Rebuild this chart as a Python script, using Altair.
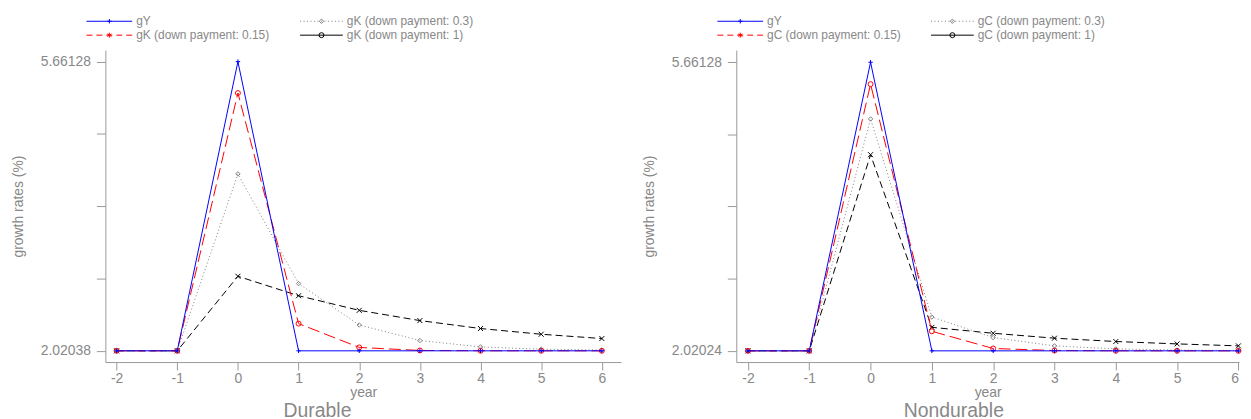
import altair as alt
import pandas as pd

# ---------------- data ----------------
years = [-2, -1, 0, 1, 2, 3, 4, 5, 6]

dur_gY = [2.02038, 2.02038, 5.66128, 2.02038, 2.02038, 2.02038, 2.02038, 2.02038, 2.02038]
dur_gK_015 = [2.02038, 2.02038, 5.266, 2.363, 2.063, 2.025, 2.021, 2.0205, 2.0204]
dur_gK_03 = [2.02038, 2.02038, 4.248, 2.867, 2.346, 2.150, 2.070, 2.041, 2.030]
dur_gK_1 = [2.02038, 2.02038, 2.959, 2.714, 2.530, 2.401, 2.301, 2.229, 2.175]

non_gY = [2.02024, 2.02024, 5.66128, 2.02024, 2.02024, 2.02024, 2.02024, 2.02024, 2.02024]
non_gC_015 = [2.02024, 2.02024, 5.385, 2.267, 2.050, 2.024, 2.021, 2.0205, 2.0203]
non_gC_03 = [2.02024, 2.02024, 4.946, 2.447, 2.188, 2.083, 2.045, 2.030, 2.025]
non_gC_1 = [2.02024, 2.02024, 4.495, 2.317, 2.242, 2.180, 2.138, 2.108, 2.083]

dur_yticks = [2.02038, 2.930655, 3.84093, 4.751205, 5.66128]
dur_ylabels = ["2.02038", "", "", "", "5.66128"]
non_yticks = [2.02024, 2.9305, 3.84076, 4.75102, 5.66128]
non_ylabels = ["2.02024", "", "", "", "5.66128"]

dur_legend = ["gY", "gK (down payment: 0.15)", "gK (down payment: 0.3)", "gK (down payment: 1)"]
non_legend = ["gY", "gC (down payment: 0.15)", "gC (down payment: 0.3)", "gC (down payment: 1)"]

# ---------------- style ----------------
FONT = "Liberation Sans"
TEXT = "#888888"
AXIS = "#999999"
PLUS = "M-1,0L1,0M0,-1L0,1"
XSHAPE = "M-1,-1L1,1M-1,1L1,-1"
STAR = "M0,-1L0,1M-0.87,-0.5L0.87,0.5M-0.87,0.5L0.87,-0.5"

BLUE, RED, GRAY, BLACK = "#0000ff", "#ff0000", "#808080", "#000000"


def label_expr(ticks, labels):
    expr = "''"
    for t, l in zip(ticks, labels):
        expr = f"abs(datum.value - {t}) < 1e-6 ? '{l}' : ({expr})"
    return expr


def series(values, color, dash, shape, size, xs, ys, xaxis, yaxis):
    df = pd.DataFrame({"year": years, "value": values})
    base = alt.Chart(df).encode(
        x=alt.X("year:Q", scale=xs, axis=xaxis),
        y=alt.Y("value:Q", scale=ys, axis=yaxis),
    )
    lk = dict(color=color, strokeWidth=1)
    if dash:
        lk["strokeDash"] = dash
    line = base.mark_line(**lk)
    pts = base.mark_point(shape=shape, size=size, color=color, filled=False,
                          strokeWidth=1, opacity=1)
    return [line, pts]


def legend_entry(x0, x1, y, label, color, dash, shape, size):
    c = alt.Chart(pd.DataFrame({"k": [0]}))
    rk = dict(color=color, strokeWidth=1)
    if dash:
        rk["strokeDash"] = dash
    rule = c.mark_rule(**rk).encode(x=alt.value(x0), x2=alt.value(x1), y=alt.value(y))
    pt = c.mark_point(shape=shape, size=size, color=color, filled=False,
                      strokeWidth=1, opacity=1).encode(
        x=alt.value((x0 + x1) / 2), y=alt.value(y))
    txt = c.mark_text(align="left", baseline="middle", font=FONT, fontSize=12,
                      color=TEXT).encode(x=alt.value(x1 + 4), y=alt.value(y),
                                         text=alt.value(label))
    return [rule, pt, txt]


def panel(gy, s015, s03, s1, yticks, ylabels, ydomain, xdomain, width, legend,
          title, dx):
    xs = alt.Scale(domain=xdomain, nice=False, zero=False)
    ys = alt.Scale(domain=ydomain, nice=False, zero=False)
    xaxis = alt.Axis(values=years, title="year", grid=False, tickSize=8,
                     labelPadding=2, titlePadding=0,
                     labelExpr="'' + datum.value")
    yaxis = alt.Axis(values=yticks, labelExpr=label_expr(yticks, ylabels),
                     title="growth rates (%)", grid=False, tickSize=9,
                     labelPadding=6, titlePadding=15)
    layers = []
    layers += series(s1, BLACK, [7, 4], XSHAPE, 25, xs, ys, xaxis, yaxis)
    layers += series(s03, GRAY, [1, 2.5], "diamond", 20, xs, ys, xaxis, yaxis)
    layers += series(s015, RED, [12, 5], "circle", 25, xs, ys, xaxis, yaxis)
    layers += series(gy, BLUE, None, PLUS, 20, xs, ys, xaxis, yaxis)
    layers += legend_entry(-19, 27, -29, legend[0], BLUE, None, PLUS, 20)
    layers += legend_entry(-19, 27, -15, legend[1], RED, [6, 4], STAR, 25)
    layers += legend_entry(196, 239, -29, legend[2], GRAY, [1, 2.5], "diamond", 20)
    layers += legend_entry(196, 239, -15, legend[3], BLACK, None, "circle", 25)
    return alt.layer(*layers).properties(
        width=width, height=314,
        title=alt.TitleParams(title, orient="bottom", anchor="middle", fontSize=19.5,
                              font=FONT, color=TEXT, fontWeight="normal", dx=dx,
                              offset=2),
    )


left = panel(dur_gY, dur_gK_015, dur_gK_03, dur_gK_1, dur_yticks, dur_ylabels,
             [1.879, 5.807], [-2.185, 6.316], 519, dur_legend, "Durable", -46)
right = panel(non_gY, non_gC_015, non_gC_03, non_gC_1, non_yticks, non_ylabels,
              [1.879, 5.815], [-2.19, 6.01], 506, non_legend, "Nondurable", -34)

chart = alt.hconcat(left, right, spacing=21).configure_view(stroke=None).configure_axis(
    labelFont=FONT, titleFont=FONT, labelFontSize=14, titleFontSize=14,
    labelColor=TEXT, titleColor=TEXT, titleFontWeight="normal",
    domainColor=AXIS, tickColor=AXIS, domainWidth=1, tickWidth=1,
).properties(padding={"left": 3, "top": 6, "right": 0, "bottom": 0})

chart.save("out.html", embed_options={"renderer": "svg", "actions": False})
